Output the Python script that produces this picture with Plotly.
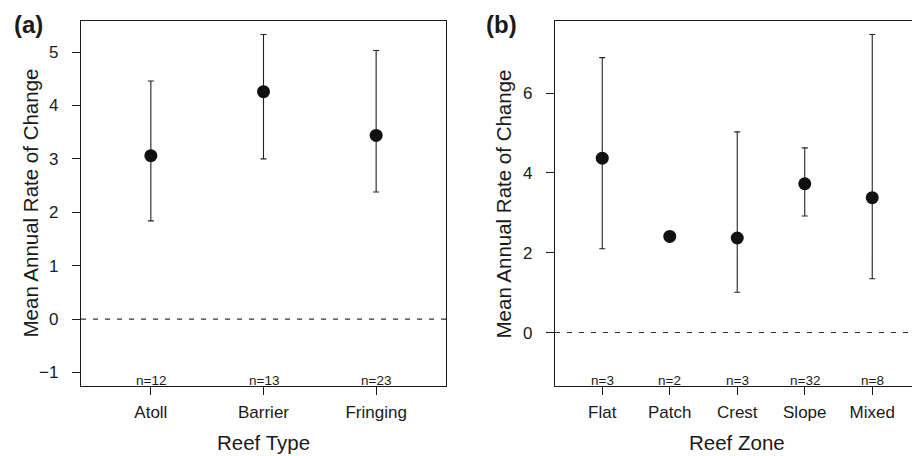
import plotly.graph_objects as go

# ---- Panel (a): Reef Type ----
type_cats = ["Atoll", "Barrier", "Fringing"]
type_mean = [3.06, 4.26, 3.44]
type_upper = [4.46, 5.33, 5.03]
type_lower = [1.84, 3.00, 2.38]
type_n = ["n=12", "n=13", "n=23"]
type_yticks = [-1, 0, 1, 2, 3, 4, 5]

# ---- Panel (b): Reef Zone ----
zone_cats = ["Flat", "Patch", "Crest", "Slope", "Mixed"]
zone_mean = [4.37, 2.41, 2.37, 3.73, 3.38]
zone_upper = [6.89, 2.41, 5.03, 4.63, 7.47]
zone_lower = [2.10, 2.41, 1.01, 2.92, 1.35]
zone_n = ["n=3", "n=2", "n=3", "n=32", "n=8"]
zone_yticks = [0, 2, 4, 6]

W, H = 920, 456
OFF = 8  # browser default body margin
FONT = "Liberation Sans, Arial, Helvetica, sans-serif"
INK = "#1a1a1a"

def px_x(p):
    return (p - OFF) / W

def px_y(p):
    return 1 - (p - OFF) / H

top, bottom = 21, 386
a_left, a_right = 81, 446
b_left, b_right = 555, 919.5

fig = go.Figure()

def add_panel(cats, mean, upper, lower, xa, ya):
    xs = list(range(1, len(cats) + 1))
    fig.add_trace(go.Scatter(
        x=xs, y=mean, mode="markers",
        marker=dict(size=13, color="#111111"),
        error_y=dict(type="data", symmetric=False,
                     array=[u - m for u, m in zip(upper, mean)],
                     arrayminus=[m - l for m, l in zip(mean, lower)],
                     color="#222222", thickness=1.1, width=3),
        xaxis=xa, yaxis=ya, showlegend=False, hoverinfo="skip"))

add_panel(type_cats, type_mean, type_upper, type_lower, "x", "y")
add_panel(zone_cats, zone_mean, zone_upper, zone_lower, "x2", "y2")

axis_common = dict(showline=True, linecolor=INK, linewidth=1.2, mirror=True,
                   ticks="outside", ticklen=8, tickwidth=1.1, tickcolor=INK,
                   showgrid=False, zeroline=False,
                   tickfont=dict(family=FONT, size=17, color=INK))

fig.update_layout(
    width=W, height=H, margin=dict(l=0, r=0, t=0, b=0),
    plot_bgcolor="white", paper_bgcolor="white",
    xaxis=dict(domain=[px_x(a_left), px_x(a_right)], range=[0.38, 3.62],
               tickvals=[1, 2, 3], ticktext=type_cats, anchor="y",
               ticklabelstandoff=2, **axis_common),
    yaxis=dict(domain=[px_y(bottom), px_y(top)], range=[-1.253, 5.583],
               tickvals=type_yticks, ticktext=["\u22121" if v < 0 else str(v) for v in type_yticks],
               anchor="x", ticklabelstandoff=10, **axis_common),
    xaxis2=dict(domain=[px_x(b_left), px_x(b_right)], range=[0.3, 5.7],
                tickvals=[1, 2, 3, 4, 5], ticktext=zone_cats, anchor="y2",
                ticklabelstandoff=2, **axis_common),
    yaxis2=dict(domain=[px_y(bottom), px_y(top)], range=[-1.339, 7.809],
                tickvals=zone_yticks, ticktext=[str(v) for v in zone_yticks],
                anchor="x2", ticklabelstandoff=10, **axis_common),
)

# dashed zero lines
for xr, yr in (("x domain", "y"), ("x2 domain", "y2")):
    fig.add_shape(type="line", xref=xr, yref=yr, x0=0, x1=1, y0=0, y1=0,
                  line=dict(color="#333333", width=1.1, dash="5px,7px"), layer="below")

C = dict(xanchor="center", yanchor="middle", showarrow=False)
ann = []
# n labels
for i, t in enumerate(type_n):
    ann.append(dict(x=i + 1, y=px_y(380), xref="x", yref="paper", text=t,
                    font=dict(family=FONT, size=13.5, color=INK), **C))
for i, t in enumerate(zone_n):
    ann.append(dict(x=i + 1, y=px_y(380), xref="x2", yref="paper", text=t,
                    font=dict(family=FONT, size=13.5, color=INK), **C))
# axis titles
ann.append(dict(x=px_x((a_left + a_right) / 2), y=px_y(442), xref="paper", yref="paper",
                text="Reef Type", font=dict(family=FONT, size=20.5, color=INK), **C))
ann.append(dict(x=px_x((b_left + b_right) / 2), y=px_y(442), xref="paper", yref="paper",
                text="Reef Zone", font=dict(family=FONT, size=20.5, color=INK), **C))
ann.append(dict(x=px_x(30), y=px_y((top + bottom) / 2), xref="paper", yref="paper",
                text="Mean Annual Rate of Change", textangle=-90,
                font=dict(family=FONT, size=20.5, color=INK), **C))
ann.append(dict(x=px_x(503), y=px_y((top + bottom) / 2), xref="paper", yref="paper",
                text="Mean Annual Rate of Change", textangle=-90,
                font=dict(family=FONT, size=20.5, color=INK), **C))
# panel letters
ann.append(dict(x=px_x(28), y=px_y(25), xref="paper", yref="paper", text="<b>(a)</b>",
                font=dict(family=FONT, size=24, color=INK), **C))
ann.append(dict(x=px_x(501.5), y=px_y(25), xref="paper", yref="paper", text="<b>(b)</b>",
                font=dict(family=FONT, size=24, color=INK), **C))
fig.update_layout(annotations=ann)

fig.write_html("out.html")
